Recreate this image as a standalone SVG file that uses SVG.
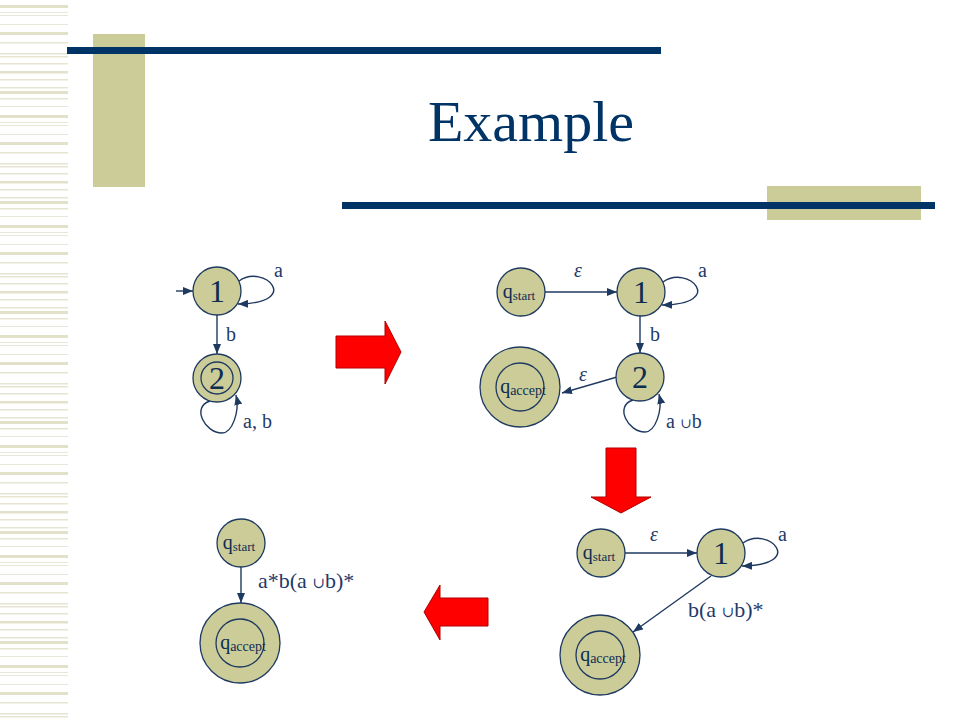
<svg xmlns="http://www.w3.org/2000/svg" width="960" height="720" viewBox="0 0 960 720">
<style>
.node{fill:#cccc99;stroke:#1f3a60;stroke-width:1.3}
.inner{fill:none;stroke:#1f3a60;stroke-width:1.3}
.edge{fill:none;stroke:#1f3a60;stroke-width:1.4}
text{font-family:"Liberation Serif","Times New Roman",Tinos,"DejaVu Serif",serif}
.big{font-size:32px;fill:#0f2d52;text-anchor:middle}
.q{font-size:20px;fill:#0f2d52;text-anchor:middle}
.lbl{font-size:20px;fill:#1f3a6a}
.lbl2{font-size:22px;fill:#1f3a6a}
.eps{font-style:italic;font-size:20px;fill:#1f3a6a}
.red{fill:#ff0000;stroke:#b00000;stroke-width:1}
</style>
<defs>
<marker id="ah" markerUnits="userSpaceOnUse" markerWidth="10" markerHeight="8" refX="10" refY="4" orient="auto">
<path d="M0,0 L10,4 L0,8 z" fill="#1f3a60"/>
</marker>
<pattern id="stripes" patternUnits="userSpaceOnUse" width="68" height="110">
<rect x="0" y="5" width="68" height="3" fill="#e2e1c9"/>
<rect x="0" y="12" width="68" height="1" fill="#e8e8d8"/>
<rect x="0" y="15" width="68" height="1" fill="#e8e8d8"/>
<rect x="0" y="24" width="68" height="1" fill="#e8e8d8"/>
<rect x="0" y="32" width="68" height="3" fill="#e2e1c9"/>
<rect x="0" y="42" width="68" height="1.5" fill="#e6e5d2"/>
<rect x="0" y="53" width="68" height="1.5" fill="#e6e5d2"/>
<rect x="0" y="56" width="68" height="1.5" fill="#e6e5d2"/>
<rect x="0" y="63" width="68" height="1.5" fill="#e6e5d2"/>
<rect x="0" y="71" width="68" height="2.5" fill="#e2e1c9"/>
<rect x="0" y="79" width="68" height="1.5" fill="#e6e5d2"/>
<rect x="0" y="87" width="68" height="1.5" fill="#e6e5d2"/>
<rect x="0" y="91" width="68" height="3" fill="#e2e1c9"/>
<rect x="0" y="98" width="68" height="1.5" fill="#e6e5d2"/>
<rect x="0" y="106" width="68" height="1" fill="#e8e8d8"/>
</pattern>
</defs>
<rect x="0" y="0" width="960" height="720" fill="#ffffff"/>
<g id="background">
<rect x="0" y="0" width="68" height="720" fill="url(#stripes)"/>
<rect x="93" y="34" width="52" height="153" fill="#cccc99"/>
<rect x="67" y="47" width="594" height="7" fill="#003366"/>
<rect x="767" y="186" width="154" height="34" fill="#cccc99"/>
<rect x="342" y="202" width="593" height="7" fill="#003366"/>
<text x="531" y="141" font-size="58" fill="#003366" text-anchor="middle">Example</text>
</g>
<g id="arrows-red">
<path class="red" d="M336,336 H385 V321 L401,352 L385,384 V368 H336 Z"/>
<path class="red" d="M606,448 H636 V497 H651 L621,513 L591,497 H606 Z"/>
<path class="red" d="M488,598 V626 H440 V640 L424,612 L440,585 V598 Z"/>
</g>
<g id="connectors">
<line class="edge" x1="176" y1="291" x2="193" y2="291" marker-end="url(#ah)"/>
<path class="edge" transform="translate(217,291)" d="M22,-10 C47,-28 86,12 21,13" marker-end="url(#ah)"/>
<line class="edge" x1="217" y1="315" x2="217" y2="354" marker-end="url(#ah)"/>
<path class="edge" transform="translate(217,378)" d="M-7,23 C-26,29 -12,55 5,55 C15,55 23,34 19,17" marker-end="url(#ah)"/>
<line class="edge" x1="545" y1="292" x2="617" y2="292" marker-end="url(#ah)"/>
<path class="edge" transform="translate(641,292)" d="M22,-10 C47,-28 86,12 21,13" marker-end="url(#ah)"/>
<line class="edge" x1="640" y1="316" x2="640" y2="353" marker-end="url(#ah)"/>
<line class="edge" x1="617" y1="377" x2="562" y2="393" marker-end="url(#ah)"/>
<path class="edge" transform="translate(640,377)" d="M-7,23 C-26,29 -12,55 5,55 C15,55 23,34 19,17" marker-end="url(#ah)"/>
<line class="edge" x1="625" y1="553" x2="697" y2="553" marker-end="url(#ah)"/>
<path class="edge" transform="translate(721,553)" d="M22,-10 C47,-28 86,12 21,13" marker-end="url(#ah)"/>
<line class="edge" x1="711" y1="576" x2="633" y2="632" marker-end="url(#ah)"/>
<line class="edge" x1="241" y1="567" x2="241" y2="603" marker-end="url(#ah)"/>
</g>
<g id="tl-1"><circle class="node" cx="217" cy="291" r="24"/><text class="big" x="217" y="302">1</text></g>
<g id="tl-2"><circle class="node" cx="217" cy="378" r="24"/><circle class="inner" cx="217" cy="378" r="16"/><text class="big" x="217" y="389">2</text></g>
<g id="tl-labels">
<text class="lbl" x="274" y="277">a</text>
<text class="lbl" x="226" y="341">b</text>
<text class="lbl" x="243" y="428">a, b</text>
</g>
<g id="tr-qstart"><circle class="node" cx="521" cy="292" r="24"/><text class="q" x="519" y="298">q<tspan font-size="13" dy="2">start</tspan></text></g>
<g id="tr-1"><circle class="node" cx="641" cy="292" r="24"/><text class="big" x="641" y="303">1</text></g>
<g id="tr-2"><circle class="node" cx="640" cy="377" r="24"/><text class="big" x="640" y="388">2</text></g>
<g id="tr-qaccept"><circle class="node" cx="520" cy="387" r="40"/><circle class="inner" cx="520" cy="387" r="24"/><text class="q" x="523" y="393">q<tspan font-size="14" dy="2">accept</tspan></text></g>
<g id="tr-labels">
<text class="eps" x="574" y="277">ε</text>
<text class="lbl" x="698" y="277">a</text>
<text class="lbl" x="650" y="341">b</text>
<text class="eps" x="579" y="381">ε</text>
<text class="lbl" x="666" y="428">a <tspan font-size="14">∪</tspan>b</text>
</g>
<g id="br-qstart"><circle class="node" cx="601" cy="553" r="24"/><text class="q" x="599" y="559">q<tspan font-size="13" dy="2">start</tspan></text></g>
<g id="br-1"><circle class="node" cx="721" cy="553" r="24"/><text class="big" x="721" y="564">1</text></g>
<g id="br-qaccept"><circle class="node" cx="600" cy="655" r="40"/><circle class="inner" cx="600" cy="655" r="24"/><text class="q" x="603" y="661">q<tspan font-size="14" dy="2">accept</tspan></text></g>
<g id="br-labels">
<text class="eps" x="650" y="541">ε</text>
<text class="lbl" x="778" y="541">a</text>
<text class="lbl2" x="688" y="617">b(a <tspan font-size="15">∪</tspan>b)*</text>
</g>
<g id="bl-qstart"><circle class="node" cx="241" cy="543" r="24"/><text class="q" x="239" y="549">q<tspan font-size="13" dy="2">start</tspan></text></g>
<g id="bl-qaccept"><circle class="node" cx="240" cy="643" r="40"/><circle class="inner" cx="240" cy="643" r="24"/><text class="q" x="243" y="649">q<tspan font-size="14" dy="2">accept</tspan></text></g>
<g id="bl-labels">
<text class="lbl2" x="258" y="588">a*b(a <tspan font-size="15">∪</tspan>b)*</text>
</g>
</svg>
